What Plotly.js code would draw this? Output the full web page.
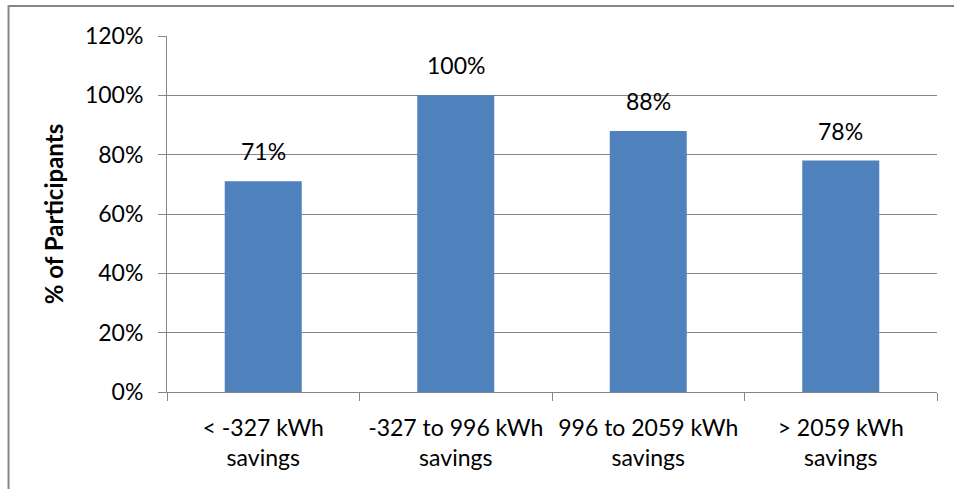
<!DOCTYPE html>
<html>
<head>
<meta charset="utf-8">
<script src="https://cdn.plot.ly/plotly-3.0.1.min.js"></script>
<style>html,body{margin:0;padding:0;background:#fff;}#chart{width:954px;height:489px;}</style>
</head>
<body>
<div id="chart"></div>
<script>
var categories = ["< -327 kWh<br>savings", "-327 to 996 kWh<br>savings", "996 to 2059 kWh<br>savings", "> 2059 kWh<br>savings"];
var values = [0.71, 1.00, 0.88, 0.78];
var labels = ["71%", "100%", "88%", "78%"];
var yTicks = [0, 0.2, 0.4, 0.6, 0.8, 1.0, 1.2];

var font = "Lato, 'Open Sans', sans-serif";
var gray = "#868686";

var trace = {
  type: "bar",
  x: categories,
  y: values,
  marker: {color: "#4F81BD"},
  hoverinfo: "none"
};

var annotations = categories.map(function(c, i){
  return {x: c, y: values[i], xref: "x", yref: "y", text: labels[i], showarrow: false,
          yanchor: "bottom", yshift: 14, font: {family: font, size: 23, color: "#000"}};
});

var layout = {
  width: 954, height: 489,
  margin: {l: 167, r: 17, t: 36, b: 97},
  paper_bgcolor: "#fff", plot_bgcolor: "#fff",
  showlegend: false,
  bargap: 0.6,
  font: {family: font, size: 23, color: "#000"},
  xaxis: {
    type: "category",
    tickson: "boundaries",
    ticks: "outside", ticklen: 8, tickcolor: gray, tickwidth: 1,
    showline: true, linecolor: gray, linewidth: 1,
    showgrid: false,
    tickfont: {family: font, size: 23, color: "#000"},
    ticklabelstandoff: 15
  },
  yaxis: {
    range: [0, 1.2],
    tickvals: yTicks,
    tickformat: ".0%",
    ticks: "outside", ticklen: 8, tickcolor: gray, tickwidth: 1,
    showline: true, linecolor: gray, linewidth: 1,
    showgrid: true, gridcolor: gray, gridwidth: 1,
    zeroline: false,
    tickfont: {family: font, size: 23, color: "#000"},
    ticklabelstandoff: 10,
    title: {text: "<b>% of Participants</b>", font: {family: font, size: 24, color: "#000"}, standoff: 14}
  },
  annotations: annotations,
  shapes: [{
    type: "path", xref: "paper", yref: "paper",
    path: "M -0.2058 -0.4 L -0.2058 1.0843 L 1.2 1.0843",
    line: {color: gray, width: 2}
  }]
};

Plotly.newPlot("chart", [trace], layout, {staticPlot: true, displayModeBar: false});
</script>
</body>
</html>
